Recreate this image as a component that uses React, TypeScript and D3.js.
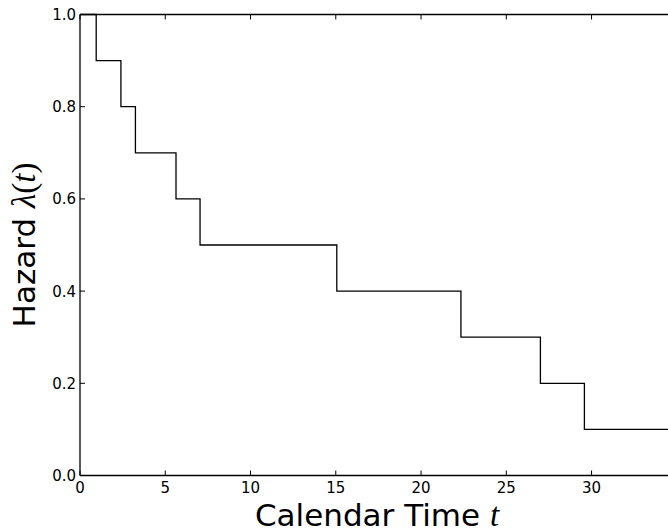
import React from "react";
import * as d3 from "d3";

const changeTimes = [0, 0.95, 2.4, 3.25, 5.63, 7.04, 15.06, 22.34, 27.0, 29.58];
const hazardValues = [1.0, 0.9, 0.8, 0.7, 0.6, 0.5, 0.4, 0.3, 0.2, 0.1];
const xEnd = 34.6;
const xTicks = [0, 5, 10, 15, 20, 25, 30];
const yTicks = [0.0, 0.2, 0.4, 0.6, 0.8, 1.0];

const W = 668;
const H = 532;
const left = 80;
const right = 670;
const top = 14.5;
const bottom = 475.5;

export default function App() {
  const x = d3.scaleLinear().domain([0, xEnd]).range([left, right]);
  const y = d3.scaleLinear().domain([0, 1]).range([bottom, top]);

  const pts: [number, number][] = changeTimes.map((t, i) => [t, hazardValues[i]]);
  pts.push([xEnd, hazardValues[hazardValues.length - 1]]);
  const line = d3
    .line<[number, number]>()
    .x((d) => x(d[0]))
    .y((d) => y(d[1]))
    .curve(d3.curveStepAfter);

  const font = "DejaVu Sans, sans-serif";
  const tickLen = 5;
  const labelSize = 31;
  const mathSize = 33;

  return (
    <svg
      width={W}
      height={H}
      style={{ position: "absolute", left: 0, top: 0, background: "#fff" }}
    >
      <rect x={0} y={0} width={W} height={H} fill="#fff" />
      <path d={line(pts) || ""} fill="none" stroke="#000" strokeWidth={1.3} />
      <line x1={left} x2={left} y1={top} y2={bottom} stroke="#000" strokeWidth={1.3} />
      <line x1={left} x2={W + 5} y1={bottom} y2={bottom} stroke="#000" strokeWidth={1.3} />
      <line x1={left} x2={W + 5} y1={top} y2={top} stroke="#000" strokeWidth={1.3} />
      {xTicks.map((t) => (
        <g key={"x" + t}>
          <line x1={x(t)} x2={x(t)} y1={bottom} y2={bottom - tickLen} stroke="#000" strokeWidth={1} />
          <line x1={x(t)} x2={x(t)} y1={top} y2={top + tickLen} stroke="#000" strokeWidth={1} />
          <text
            x={x(t)}
            y={bottom + 17}
            textAnchor="middle"
            fontFamily={font}
            fontSize={15}
            fill="#000"
          >
            {String(t)}
          </text>
        </g>
      ))}
      {yTicks.map((v) => (
        <g key={"y" + v}>
          <line x1={left} x2={left + tickLen} y1={y(v)} y2={y(v)} stroke="#000" strokeWidth={1} />
          <text
            x={left - 4}
            y={y(v) + 5.5}
            textAnchor="end"
            fontFamily={font}
            fontSize={15}
            fill="#000"
          >
            {v.toFixed(1)}
          </text>
        </g>
      ))}
      <text
        x={377}
        y={526}
        textAnchor="middle"
        fontFamily={font}
        fontSize={labelSize}
        fill="#000"
      >
        Calendar Time{" "}
        <tspan fontFamily="Liberation Serif, serif" fontStyle="italic" fontSize={mathSize}>
          t
        </tspan>
      </text>
      <text
        transform={`translate(35, ${(top + bottom) / 2}) rotate(-90)`}
        textAnchor="middle"
        fontFamily={font}
        fontSize={labelSize}
        fill="#000"
      >
        Hazard{" "}
        <tspan fontFamily="Liberation Serif, serif" fontStyle="italic" fontSize={mathSize}>
          λ
        </tspan>
        <tspan fontFamily="Liberation Serif, serif" fontSize={mathSize}>
          (
        </tspan>
        <tspan fontFamily="Liberation Serif, serif" fontStyle="italic" fontSize={mathSize}>
          t
        </tspan>
        <tspan fontFamily="Liberation Serif, serif" fontSize={mathSize}>
          )
        </tspan>
      </text>
    </svg>
  );
}
